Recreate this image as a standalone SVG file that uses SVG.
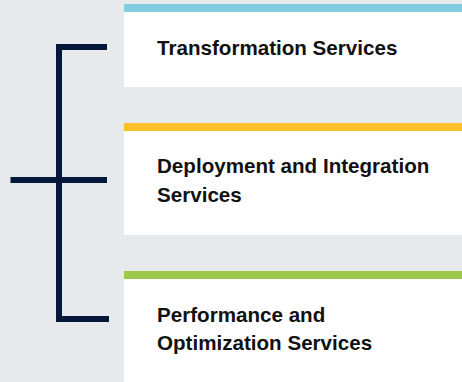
<svg xmlns="http://www.w3.org/2000/svg" width="462" height="382" viewBox="0 0 462 382">
<style>
.card{fill:#ffffff}
.lbl{font-family:"Liberation Sans",Arial,sans-serif;font-weight:700;font-size:20.6px;fill:#111111}
.br{stroke:#06183a;stroke-width:6;fill:none}
</style>
<rect width="462" height="382" fill="#e8e9ed"/>
<g id="connectors">
<path class="br" d="M107 47 H59 V319 H109"/>
<path class="br" d="M10.5 180 H107"/>
</g>
<g id="node-transformation">
<rect class="card" x="124" y="12" width="338" height="75"/>
<rect x="124" y="4" width="338" height="8" fill="#83cde3"/>
<text class="lbl" x="157" y="55">Transformation Services</text>
</g>
<g id="node-deployment">
<rect class="card" x="124" y="131" width="338" height="104"/>
<rect x="124" y="123" width="338" height="8" fill="#fdc02a"/>
<text class="lbl" x="157" y="173">Deployment and Integration</text>
<text class="lbl" x="157" y="202">Services</text>
</g>
<g id="node-performance">
<rect class="card" x="124" y="279" width="338" height="103"/>
<rect x="124" y="271" width="338" height="8" fill="#9dc94b"/>
<text class="lbl" x="157" y="322">Performance and</text>
<text class="lbl" x="157" y="350">Optimization Services</text>
</g>
</svg>
